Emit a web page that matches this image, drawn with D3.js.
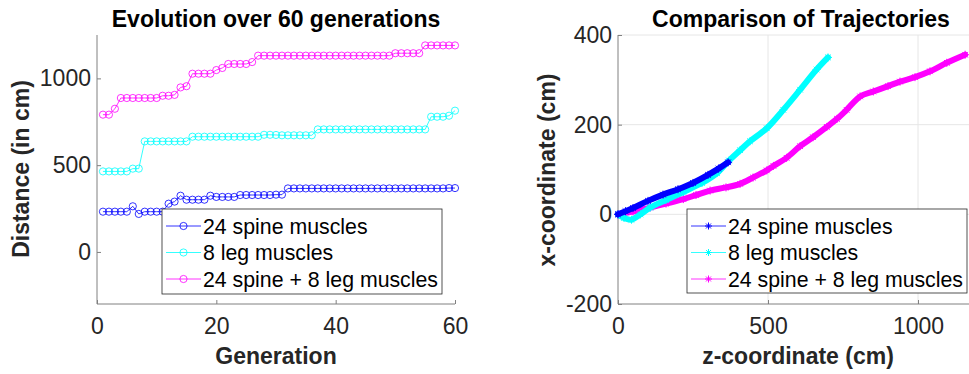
<!DOCTYPE html>
<html lang="en">
<head>
    <meta charset="UTF-8">
    <title>Evolution and Trajectories</title>
    <script src="https://d3js.org/d3.v7.min.js"></script>
    <style>
        body { margin: 0; background: #fff; }
        text { font-family: "Liberation Sans", Arial, Helvetica, sans-serif; }
    </style>
</head>
<body>
<svg id="chart" width="969" height="374"></svg>

<script>
    // ---- data ----
    const generations = [1,2,3,4,5,6,7,8,9,10,11,12,13,14,15,16,17,18,19,20,
        21,22,23,24,25,26,27,28,29,30,31,32,33,34,35,36,37,38,39,40,
        41,42,43,44,45,46,47,48,49,50,51,52,53,54,55,56,57,58,59,60];

    const spine24 = [232,232,232,232,232,263,219,232,232,232,232,278,290,324,301,301,301,301,324,317,
        317,317,317,328,328,328,328,328,328,330,330,366,366,366,366,366,366,366,366,366,
        366,366,366,366,366,366,366,366,366,366,366,366,366,366,366,366,366,366,368,368];

    const leg8 = [464,464,464,464,464,480,480,637,637,637,637,637,637,637,637,664,664,664,664,664,
        664,664,664,664,664,664,664,675,675,674,672,672,672,672,672,672,706,706,706,706,
        706,706,706,706,706,706,706,706,706,706,706,706,706,706,706,779,779,779,785,814];

    const spineLeg = [791,791,825,887,887,887,887,887,887,887,900,900,905,948,955,1027,1027,1027,1027,1048,
        1060,1083,1083,1083,1083,1094,1131,1131,1131,1131,1131,1131,1131,1131,1131,1131,1131,1131,1131,1131,
        1131,1131,1131,1131,1131,1131,1131,1131,1131,1145,1145,1145,1145,1145,1190,1190,1190,1190,1190,1190];

    // trajectories: [z, x] in cm
    const trajSpine = [[0,0],[25,7],[50,14],[100,30],[150,44],[200,56],[250,70],[300,88],[335,102],[367,116]];
    const trajLeg = [[0,0],[20,-8],[45,-12],[75,0],[107,15],[160,32],[218,50],[280,70],[330,92],[370,120],
        [407,143],[440,163],[496,192],[551,233],[607,278],[662,323],[700,350]];
    const trajBoth = [[0,0],[50,6],[107,15],[160,24],[218,34],[260,43],[307,53],[360,60],[407,68],[450,82],
        [496,98],[518,108],[562,126],[607,152],[650,172],[696,195],[730,213],[762,233],[807,263],[851,274],
        [900,286],[940,296],[990,306],[1040,319],[1096,338],[1157,356]];

    const seriesNames = ["24 spine muscles", "8 leg muscles", "24 spine + 8 leg muscles"];
    const seriesColors = ["#0000ff", "#00ffff", "#ff00ff"];

    const genTicks = [0, 20, 40, 60];
    const distTicks = [0, 500, 1000];
    const zTicks = [0, 500, 1000];
    const xTicks = [-200, 0, 200, 400];

    const svg = d3.select("#chart");
    const axisGray = "#808080";
    const textDark = "#262626";
    const tickFont = 23;
    const labelFont = 23;
    const fmt = d => String(d);   // plain hyphen, no thousands comma

    // ================= left chart =================
    const xL = d3.scaleLinear().domain([0, 60]).range([97, 455]);
    const yL = d3.scaleLinear().domain([-300, 1250]).range([304, 35]);

    const left = svg.append("g");

    // axes (ticks inward like matlab)
    left.append("g")
        .attr("transform", `translate(0,${yL(-300)})`)
        .call(d3.axisBottom(xL).tickValues(genTicks).tickFormat(fmt).tickSize(-4).tickPadding(14))
        .call(g => g.selectAll("path, line").attr("stroke", axisGray))
        .call(g => g.selectAll("text").attr("font-size", tickFont).attr("fill", textDark));

    left.append("g")
        .attr("transform", `translate(${xL(0)},0)`)
        .call(d3.axisLeft(yL).tickValues(distTicks).tickFormat(fmt).tickSize(-4).tickPadding(6))
        .call(g => g.selectAll("path, line").attr("stroke", axisGray))
        .call(g => g.selectAll("text").attr("font-size", tickFont).attr("fill", textDark));

    left.selectAll(".domain").attr("d", null);
    left.append("path")
        .attr("d", `M${xL(0)},${yL(1250)}V${yL(-300)}H${xL(60)}`)
        .attr("fill", "none").attr("stroke", axisGray);

    [spine24, leg8, spineLeg].forEach((vals, i) => {
        const pts = generations.map((g, j) => [g, vals[j]]);
        left.append("path")
            .datum(pts)
            .attr("fill", "none")
            .attr("stroke", seriesColors[i])
            .attr("stroke-width", 0.8)
            .attr("d", d3.line().x(d => xL(d[0])).y(d => yL(d[1])));
        left.selectAll(".c" + i)
            .data(pts)
            .enter()
            .append("circle")
            .attr("cx", d => xL(d[0]))
            .attr("cy", d => yL(d[1]))
            .attr("r", 3.6)
            .attr("fill", "none")
            .attr("stroke", seriesColors[i])
            .attr("stroke-width", 0.8);
    });

    left.append("text")
        .attr("x", 276).attr("y", 27)
        .attr("text-anchor", "middle")
        .attr("font-size", labelFont).attr("font-weight", "bold")
        .text("Evolution over 60 generations");

    left.append("text")
        .attr("x", 276).attr("y", 364)
        .attr("text-anchor", "middle")
        .attr("font-size", labelFont).attr("font-weight", "bold").attr("fill", textDark)
        .text("Generation");

    left.append("text")
        .attr("transform", "rotate(-90)")
        .attr("x", -169).attr("y", 28.5)
        .attr("text-anchor", "middle")
        .attr("font-size", labelFont).attr("font-weight", "bold").attr("fill", textDark)
        .text("Distance (in cm)");

    // ================= right chart =================
    const xR = d3.scaleLinear().domain([0, 1200]).range([618, 978]);
    const yR = d3.scaleLinear().domain([-200, 400]).range([304, 35]);

    const right = svg.append("g");

    // grid
    right.append("g").selectAll("line")
        .data(zTicks.slice(1))
        .enter().append("line")
        .attr("x1", d => xR(d)).attr("x2", d => xR(d))
        .attr("y1", yR(400)).attr("y2", yR(-200))
        .attr("stroke", "#e6e6e6");
    right.append("g").selectAll("line")
        .data(xTicks.slice(1))
        .enter().append("line")
        .attr("x1", xR(0)).attr("x2", xR(1200))
        .attr("y1", d => yR(d)).attr("y2", d => yR(d))
        .attr("stroke", "#e6e6e6");

    right.append("g")
        .attr("transform", `translate(0,${yR(-200)})`)
        .call(d3.axisBottom(xR).tickValues(zTicks).tickFormat(fmt).tickSize(-4).tickPadding(14))
        .call(g => g.selectAll("path, line").attr("stroke", axisGray))
        .call(g => g.selectAll("text").attr("font-size", tickFont).attr("fill", textDark));

    right.append("g")
        .attr("transform", `translate(${xR(0)},0)`)
        .call(d3.axisLeft(yR).tickValues(xTicks).tickFormat(fmt).tickSize(-4).tickPadding(6))
        .call(g => g.selectAll("path, line").attr("stroke", axisGray))
        .call(g => g.selectAll("text").attr("font-size", tickFont).attr("fill", textDark));

    right.selectAll(".domain").attr("d", null);
    right.append("path")
        .attr("d", `M${xR(0)},${yR(400)}V${yR(-200)}H${xR(1200)}`)
        .attr("fill", "none").attr("stroke", axisGray);

    // star marker: plus + cross
    function starPath(cx, cy, s) {
        const d = s * 0.7;
        return `M${cx - s},${cy}H${cx + s}M${cx},${cy - s}V${cy + s}` +
            `M${cx - d},${cy - d}L${cx + d},${cy + d}M${cx - d},${cy + d}L${cx + d},${cy - d}`;
    }

    const trajLine = d3.line().curve(d3.curveCatmullRom)
        .x(d => xR(d[0])).y(d => yR(d[1]));

    [trajBoth, trajLeg, trajSpine].forEach((pts, k) => {
        const i = 2 - k;
        right.append("path")
            .datum(pts)
            .attr("fill", "none")
            .attr("stroke", seriesColors[i])
            .attr("stroke-width", 6)
            .attr("stroke-linecap", "round")
            .attr("stroke-linejoin", "round")
            .attr("d", trajLine);
        right.append("path")
            .attr("d", pts.map(d => starPath(xR(d[0]), yR(d[1]), 4)).join(""))
            .attr("stroke", seriesColors[i])
            .attr("stroke-width", 1)
            .attr("fill", "none");
    });

    right.append("text")
        .attr("x", 801).attr("y", 27)
        .attr("text-anchor", "middle")
        .attr("font-size", labelFont).attr("font-weight", "bold")
        .text("Comparison of Trajectories");

    right.append("text")
        .attr("x", 798).attr("y", 364)
        .attr("text-anchor", "middle")
        .attr("font-size", labelFont).attr("font-weight", "bold").attr("fill", textDark)
        .text("z-coordinate (cm)");

    right.append("text")
        .attr("transform", "rotate(-90)")
        .attr("x", -170).attr("y", 555)
        .attr("text-anchor", "middle")
        .attr("font-size", labelFont).attr("font-weight", "bold").attr("fill", textDark)
        .text("x-coordinate (cm)");

    // ================= legends =================
    function legend(x0, y0, w, h, marker) {
        const g = svg.append("g");
        g.append("rect")
            .attr("x", x0).attr("y", y0).attr("width", w).attr("height", h)
            .attr("fill", "#fff").attr("stroke", textDark).attr("stroke-width", 0.8);
        seriesNames.forEach((name, i) => {
            const cy = y0 + 17 + i * 26.5;
            g.append("line")
                .attr("x1", x0 + 4).attr("x2", x0 + 39)
                .attr("y1", cy).attr("y2", cy)
                .attr("stroke", seriesColors[i]).attr("stroke-width", 0.8);
            if (marker === "circle") {
                g.append("circle")
                    .attr("cx", x0 + 21.5).attr("cy", cy).attr("r", 3.6)
                    .attr("fill", "none").attr("stroke", seriesColors[i]).attr("stroke-width", 0.8);
            } else {
                g.append("path")
                    .attr("d", starPath(x0 + 21.5, cy, 3.5))
                    .attr("stroke", seriesColors[i]).attr("stroke-width", 1);
            }
            g.append("text")
                .attr("x", x0 + 41).attr("y", cy + 7.5)
                .attr("font-size", 21.3).attr("fill", "#000")
                .text(name);
        });
    }

    legend(162, 209, 280, 85, "circle");
    legend(687, 209, 280, 84, "star");
</script>
</body>
</html>
